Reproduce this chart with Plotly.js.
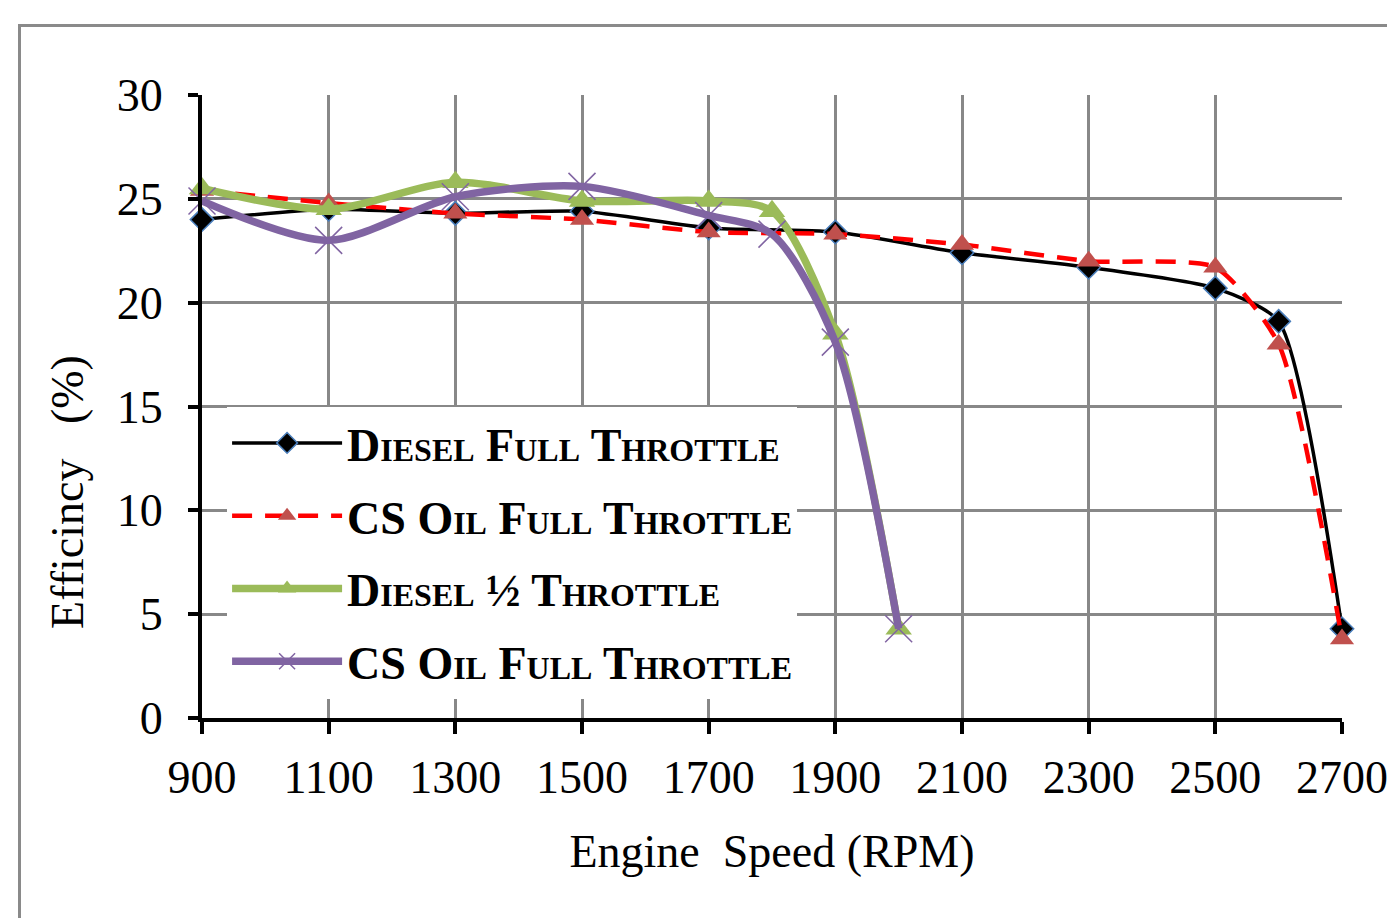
<!DOCTYPE html>
<html>
<head>
<meta charset="utf-8">
<script src="https://cdn.plot.ly/plotly-3.0.1.min.js"></script>
<style>
html,body{margin:0;padding:0;background:#fff;overflow:hidden;}
#frame{position:absolute;left:18px;top:24px;width:3000px;height:3000px;border:3px solid #8a8a8a;box-sizing:border-box;}
#chart{position:absolute;left:0;top:0;width:1387px;height:918px;}
</style>
</head>
<body>
<div id="frame"></div>
<div id="chart"></div>
<script>
// Engine speed (RPM)
const rpmFull = [900, 1100, 1300, 1500, 1700, 1900, 2100, 2300, 2500, 2600, 2700];
const rpmHalf = [900, 1100, 1300, 1500, 1700, 1800, 1900, 2000];

// Efficiency (%)
const dieselFull = [24.0, 24.5, 24.3, 24.4, 23.6, 23.4, 22.4, 21.7, 20.7, 19.1, 4.3];
const csOilFull  = [25.4, 24.8, 24.3, 24.0, 23.4, 23.3, 22.8, 22.0, 21.7, 18.0, 3.8];
const dieselHalf = [25.5, 24.5, 25.8, 24.9, 24.9, 24.4, 18.5, 4.3];
const csOilHalf  = [24.9, 23.0, 25.1, 25.6, 24.2, 23.3, 18.1, 4.3];

const seriesNames = ['Diesel Full Throttle', 'CS Oil Full Throttle', 'Diesel \u00BD Throttle', 'CS Oil Full Throttle'];

const xTicks = [900, 1100, 1300, 1500, 1700, 1900, 2100, 2300, 2500, 2700];
const yTicks = [0, 5, 10, 15, 20, 25, 30];

const xTitle = 'Engine  Speed (RPM)';
const yTitle = 'Efficincy   (%)';

const traces = [
  {
    x: rpmFull, y: dieselFull, name: seriesNames[0], legendgroup: 'g1', type: 'scatter', mode: 'lines+markers',
    cliponaxis: false,
    line: {color: '#000000', width: 3.5, shape: 'spline', smoothing: 0.6},
    marker: {symbol: 'diamond', size: 18, color: '#000000', line: {color: '#4a7ebb', width: 1.5}}
  },
  {
    x: rpmFull, y: csOilFull, name: seriesNames[1], legendgroup: 'g2', type: 'scatter', mode: 'lines+markers',
    cliponaxis: false,
    line: {color: '#ff0000', width: 4.5, dash: '20px,13px', shape: 'spline', smoothing: 0.6},
    marker: {symbol: 'triangle-up', size: 21, color: '#c0504d'}
  },
  {
    x: rpmHalf, y: dieselHalf, name: seriesNames[2], legendgroup: 'g3', type: 'scatter', mode: 'lines+markers',
    cliponaxis: false,
    line: {color: '#9bbb59', width: 7.5, shape: 'spline', smoothing: 0.8},
    marker: {symbol: 'triangle-up', size: 23, color: '#9bbb59'}
  },
  {
    x: rpmHalf, y: csOilHalf, name: seriesNames[3], legendgroup: 'g4', type: 'scatter', mode: 'lines+markers',
    cliponaxis: false,
    line: {color: '#8064a2', width: 7.5, shape: 'spline', smoothing: 0.8},
    marker: {symbol: 'x-thin', size: 27, color: '#8064a2', line: {color: '#8064a2', width: 1.5}}
  }
];

const serif = '"Liberation Serif", "Times New Roman", serif';

const layout = {
  width: 1387, height: 918,
  margin: {l: 202, r: 45, t: 95, b: 200},
  paper_bgcolor: 'rgba(0,0,0,0)',
  plot_bgcolor: '#ffffff',
  font: {family: serif, color: '#000000', size: 46},
  showlegend: true,
  legend: {
    x: 0.022, y: 0.5, xanchor: 'left', yanchor: 'top',
    bgcolor: '#ffffff', borderwidth: 0,
    itemwidth: 110, tracegroupgap: 10,
    font: {family: serif, size: 46, weight: 'bold', variant: 'small-caps', color: '#000'}
  },
  xaxis: {
    range: [900, 2700], tickvals: xTicks, ticktext: xTicks.map(String),
    showgrid: true, gridcolor: '#888888', gridwidth: 3,
    showline: true, linecolor: '#000000', linewidth: 4,
    ticks: 'outside', ticklen: 12, tickwidth: 4, tickcolor: '#000000',
    ticklabelstandoff: 4, ticklabeloverflow: 'allow',
    tickfont: {family: serif, size: 46, color: '#000'},
    zeroline: false, fixedrange: true,
    title: {text: xTitle, font: {family: serif, size: 46, color: '#000'}, standoff: 34}
  },
  yaxis: {
    range: [0, 30], tickvals: yTicks, ticktext: yTicks.map(String),
    showgrid: true, gridcolor: '#888888', gridwidth: 3,
    showline: true, linecolor: '#000000', linewidth: 4,
    ticks: 'outside', ticklen: 10, tickwidth: 4, tickcolor: '#000000',
    ticklabelstandoff: 16,
    tickfont: {family: serif, size: 46, color: '#000'},
    zeroline: false, fixedrange: true
  },
  annotations: [{
    text: yTitle, xref: 'paper', yref: 'paper', x: -0.1175, y: 0.363,
    xanchor: 'center', yanchor: 'middle', textangle: -90, showarrow: false,
    font: {family: serif, size: 46, color: '#000'}
  }]
};

Plotly.newPlot('chart', traces, layout, {displayModeBar: false, staticPlot: true});
</script>
</body>
</html>
